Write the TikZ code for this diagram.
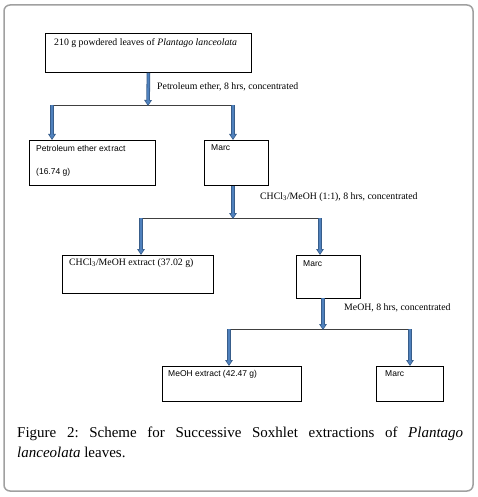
\documentclass[tikz,border=0pt]{standalone}
\usepackage{fontspec}
\setmainfont{Liberation Serif}
\newfontfamily\sansf{Liberation Sans}
\usetikzlibrary{arrows.meta}
\definecolor{ablue}{HTML}{4F81BD}
\definecolor{adark}{HTML}{385D8A}
\definecolor{framegray}{HTML}{A0A0A0}
\newcommand\barrow[2]{\draw[aout] (#1) -- (#2); \draw[ain] (#1) -- (#2);}
\frenchspacing
\begin{document}
\begin{tikzpicture}[x=1pt,y=-1pt,
 box/.style={draw=black, line width=0.9pt, inner sep=0, anchor=north west},
 lbl/.style={font=\fontsize{9.8}{11}\selectfont, inner sep=0, anchor=west},
 slbl/.style={font=\sansf\fontsize{8.5}{10}\selectfont, inner sep=0, anchor=west},
 split/.style={draw=black!75, line width=0.8pt},
 aout/.style={draw=adark, line width=3.6pt, -{Triangle[width=7.5pt,length=6pt]}},
 ain/.style={draw=ablue, line width=2pt, shorten >=1.3pt, -{Triangle[width=4.8pt,length=4pt]}}
]
\useasboundingbox (0,0) rectangle (477,497);
\draw[framegray, line width=1.5pt, rounded corners=6pt] (4,5) rectangle (473,491);

% boxes
\node[box, minimum width=206pt, minimum height=39pt] (b1) at (45,33) {};
\node[box, minimum width=126pt, minimum height=45pt] (pe) at (29,140) {};
\node[box, minimum width=64pt, minimum height=45pt] (m1) at (204,140) {};
\node[box, minimum width=151pt, minimum height=38pt] (ce) at (62,255) {};
\node[box, minimum width=64pt, minimum height=43pt] (m2) at (296,255) {};
\node[box, minimum width=139pt, minimum height=35pt] (me) at (162,366) {};
\node[box, minimum width=67pt, minimum height=35pt] (m3) at (376,366) {};

% texts
\node[lbl] (t1) at (54,43) {210 g powdered leaves of \textit{Plantago lanceolata}};
\node[slbl] (tpe1) at (36,148) {Petroleum ether ext\kern1pt ract};
\node[slbl] (tpe2) at (36,172) {(16.74 g)};
\node[slbl] (tm1) at (211,148) {Marc};
\node[lbl] (tce) at (69,263) {CHCl\textsubscript{3}/MeOH extract (37.02 g)};
\node[slbl] (tm2) at (303,264) {Marc};
\node[slbl] (tme) at (168,374) {MeOH extract (42.47 g)};
\node[slbl] (tm3) at (385,374) {Marc};

% step labels
\node[lbl] (s1) at (157,87) {Petroleum ether, 8 hrs, concentrated};
\node[lbl] (s2) at (260,197) {CHCl\textsubscript{3}/MeOH (1:1), 8 hrs, concentrated};
\node[lbl] (s3) at (344,308) {MeOH, 8 hrs, concentrated};

% junctions
\coordinate (j1) at (148,106);
\coordinate (l1) at (52,105);
\coordinate (r1) at (233,105);
\coordinate (j2) at (233,219);
\coordinate (l2) at (141,218);
\coordinate (r2) at (320,218);
\coordinate (a3) at (323,298);
\coordinate (j3) at (323,330);
\coordinate (l3) at (229,329);
\coordinate (r3) at (410,329);

\draw[split] (l1) -- (r1);
\draw[split] (l2) -- (r2);
\draw[split] (l3) -- (r3);

\barrow{b1.south}{j1}
\barrow{l1}{l1 |- pe.north}
\barrow{r1}{r1 |- m1.north}
\barrow{r1 |- m1.south}{j2}
\barrow{l2}{l2 |- ce.north}
\barrow{r2}{r2 |- m2.north}
\barrow{a3}{j3}
\barrow{l3}{l3 |- me.north}
\barrow{r3}{r3 |- m3.north}

% caption
\node[inner sep=0, anchor=base west] (cap) at (17,437) {\parbox[t]{446pt}{\fontsize{15}{20}\selectfont Figure 2: Scheme for Successive Soxhlet extractions of \textit{Plantago}\linebreak \textit{lanceolata} leaves.}};
\end{tikzpicture}
\end{document}
